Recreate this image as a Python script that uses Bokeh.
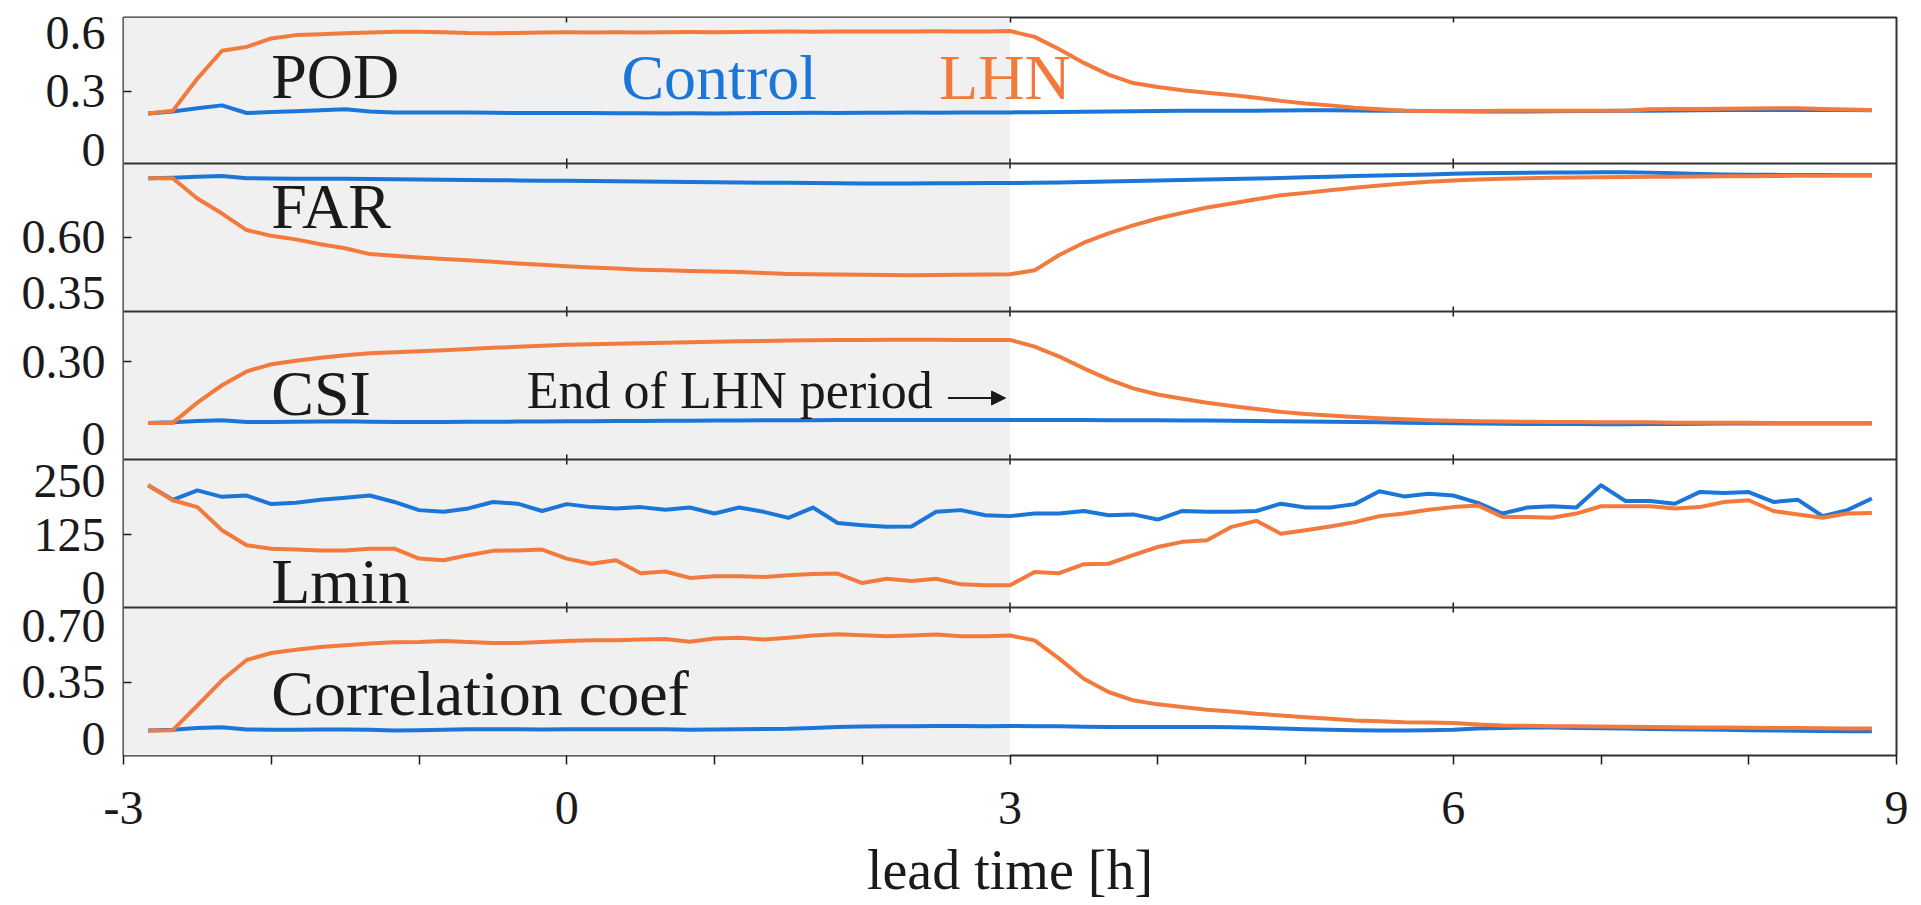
from bokeh.plotting import figure
from bokeh.models import (FixedTicker, LinearAxis, BoxAnnotation, Arrow, NormalHead, Range1d,
                          Label, Span)
from bokeh.embed import file_html
from bokeh.resources import INLINE

# ---------------- data ----------------
lead_minutes = list(range(-170, 531, 10))          # 10-minute output steps
lead_time = [m / 60.0 for m in lead_minutes]        # hours

pod_control = [0.187, 0.197, 0.213, 0.228, 0.189, 0.194, 0.198, 0.203, 0.208, 0.197,
               0.192, 0.191, 0.192, 0.191, 0.190, 0.189, 0.189, 0.189, 0.189, 0.188,
               0.188, 0.187, 0.188, 0.187, 0.188, 0.189, 0.189, 0.190, 0.189, 0.190,
               0.190, 0.191, 0.190, 0.191, 0.191, 0.192, 0.193, 0.194, 0.196, 0.197,
               0.198, 0.199, 0.200, 0.200, 0.201, 0.201, 0.202, 0.203, 0.203, 0.202,
               0.201, 0.200, 0.199, 0.198, 0.197, 0.197, 0.197, 0.198, 0.199, 0.199,
               0.200, 0.201, 0.202, 0.203, 0.204, 0.204, 0.205, 0.205, 0.204, 0.204,
               0.203]
pod_lhn = [0.187, 0.200, 0.365, 0.507, 0.527, 0.570, 0.587, 0.592, 0.596, 0.600,
           0.604, 0.604, 0.602, 0.598, 0.597, 0.598, 0.600, 0.601, 0.600, 0.601,
           0.600, 0.602, 0.603, 0.602, 0.603, 0.604, 0.605, 0.604, 0.605, 0.606,
           0.605, 0.606, 0.607, 0.606, 0.606, 0.608, 0.578, 0.515, 0.445, 0.385,
           0.342, 0.322, 0.305, 0.293, 0.281, 0.267, 0.251, 0.238, 0.228, 0.216,
           0.208, 0.201, 0.199, 0.199, 0.199, 0.200, 0.200, 0.201, 0.200, 0.201,
           0.200, 0.208, 0.209, 0.210, 0.211, 0.212, 0.213, 0.213, 0.210, 0.207,
           0.205]

far_control = [0.866, 0.868, 0.872, 0.876, 0.866, 0.865, 0.864, 0.864, 0.863, 0.862,
               0.861, 0.860, 0.859, 0.858, 0.857, 0.856, 0.855, 0.854, 0.853, 0.852,
               0.851, 0.850, 0.849, 0.848, 0.847, 0.846, 0.845, 0.844, 0.843, 0.842,
               0.842, 0.842, 0.843, 0.843, 0.844, 0.844, 0.845, 0.847, 0.849, 0.851,
               0.853, 0.856, 0.858, 0.860, 0.862, 0.865, 0.867, 0.870, 0.873, 0.876,
               0.878, 0.880, 0.883, 0.886, 0.888, 0.889, 0.890, 0.891, 0.892, 0.893,
               0.893, 0.891, 0.888, 0.885, 0.883, 0.882, 0.881, 0.880, 0.880, 0.879,
               0.879]
far_lhn = [0.866, 0.866, 0.775, 0.707, 0.633, 0.607, 0.591, 0.569, 0.551, 0.525,
           0.517, 0.510, 0.503, 0.497, 0.490, 0.483, 0.477, 0.470, 0.465, 0.460,
           0.455, 0.452, 0.449, 0.447, 0.445, 0.440, 0.436, 0.434, 0.433, 0.432,
           0.431, 0.430, 0.431, 0.432, 0.433, 0.434, 0.452, 0.521, 0.576, 0.618,
           0.654, 0.685, 0.710, 0.734, 0.752, 0.771, 0.789, 0.800, 0.812, 0.823,
           0.833, 0.842, 0.850, 0.856, 0.860, 0.863, 0.866, 0.868, 0.869, 0.870,
           0.871, 0.872, 0.873, 0.874, 0.875, 0.875, 0.876, 0.877, 0.877, 0.878,
           0.878]

csi_control = [0.061, 0.063, 0.068, 0.071, 0.064, 0.064, 0.065, 0.066, 0.067, 0.065,
               0.064, 0.064, 0.064, 0.065, 0.065, 0.066, 0.066, 0.067, 0.067, 0.068,
               0.068, 0.069, 0.069, 0.070, 0.070, 0.071, 0.071, 0.071, 0.072, 0.072,
               0.072, 0.072, 0.072, 0.072, 0.072, 0.072, 0.072, 0.072, 0.072, 0.071,
               0.071, 0.071, 0.070, 0.070, 0.069, 0.068, 0.067, 0.066, 0.065, 0.064,
               0.063, 0.062, 0.061, 0.060, 0.059, 0.058, 0.057, 0.057, 0.057, 0.056,
               0.056, 0.057, 0.057, 0.058, 0.059, 0.059, 0.059, 0.059, 0.059, 0.059,
               0.059]
csi_lhn = [0.061, 0.061, 0.140, 0.208, 0.262, 0.290, 0.304, 0.315, 0.325, 0.333,
           0.337, 0.341, 0.345, 0.350, 0.354, 0.358, 0.362, 0.366, 0.368, 0.370,
           0.372, 0.374, 0.376, 0.378, 0.380, 0.381, 0.383, 0.384, 0.385, 0.385,
           0.386, 0.386, 0.386, 0.385, 0.385, 0.385, 0.359, 0.320, 0.274, 0.231,
           0.196, 0.172, 0.155, 0.140, 0.127, 0.115, 0.104, 0.096, 0.090, 0.084,
           0.079, 0.075, 0.071, 0.069, 0.067, 0.066, 0.065, 0.064, 0.064, 0.063,
           0.063, 0.063, 0.062, 0.062, 0.062, 0.062, 0.061, 0.061, 0.061, 0.061,
           0.061]

lmin_control = [240, 206, 228, 213, 216, 196, 199, 206, 211, 216,
                201, 182, 178, 186, 201, 197, 180, 196, 189, 186,
                189, 183, 188, 174, 188, 178, 164, 188, 152, 147,
                143, 144, 178, 182, 170, 168, 174, 174, 180, 170,
                172, 160, 180, 178, 178, 180, 197, 188, 188, 196,
                226, 214, 220, 216, 199, 174, 188, 191, 188, 240,
                203, 203, 197, 224, 222, 224, 201, 206, 168, 182,
                209]
lmin_lhn = [240, 205, 189, 135, 100, 92, 90, 88, 88, 92,
            92, 69, 65, 77, 87, 88, 90, 69, 57, 65,
            35, 39, 24, 28, 28, 26, 30, 33, 34, 12,
            22, 17, 22, 9, 7, 7, 38, 35, 56, 57,
            77, 96, 108, 112, 143, 157, 127, 135, 144, 154,
            168, 174, 183, 189, 193, 166, 166, 164, 174, 191,
            191, 191, 186, 189, 201, 205, 180, 172, 164, 174,
            175]

corr_control = [0.050, 0.054, 0.066, 0.070, 0.056, 0.055, 0.055, 0.056, 0.056, 0.054,
                0.050, 0.052, 0.055, 0.057, 0.058, 0.057, 0.056, 0.057, 0.058, 0.058,
                0.058, 0.057, 0.055, 0.056, 0.058, 0.060, 0.061, 0.066, 0.072, 0.075,
                0.076, 0.077, 0.078, 0.078, 0.077, 0.078, 0.077, 0.076, 0.074, 0.072,
                0.071, 0.071, 0.072, 0.071, 0.070, 0.067, 0.062, 0.058, 0.055, 0.052,
                0.050, 0.050, 0.052, 0.055, 0.062, 0.066, 0.068, 0.068, 0.066, 0.064,
                0.062, 0.060, 0.058, 0.056, 0.054, 0.052, 0.050, 0.048, 0.047, 0.046,
                0.045]
corr_lhn = [0.050, 0.052, 0.206, 0.363, 0.490, 0.533, 0.554, 0.571, 0.581, 0.592,
            0.600, 0.602, 0.608, 0.602, 0.596, 0.596, 0.602, 0.608, 0.612, 0.612,
            0.617, 0.620, 0.604, 0.623, 0.629, 0.617, 0.629, 0.642, 0.650, 0.644,
            0.638, 0.642, 0.648, 0.638, 0.638, 0.642, 0.612, 0.498, 0.373, 0.290,
            0.238, 0.213, 0.196, 0.180, 0.169, 0.154, 0.144, 0.133, 0.123, 0.113,
            0.108, 0.102, 0.100, 0.096, 0.088, 0.081, 0.079, 0.077, 0.077, 0.075,
            0.073, 0.072, 0.070, 0.069, 0.068, 0.067, 0.066, 0.065, 0.064, 0.063,
            0.062]

panel_names = ["POD", "FAR", "CSI", "Lmin", "Correlation coef"]
panel_control = [pod_control, far_control, csi_control, lmin_control, corr_control]
panel_lhn = [pod_lhn, far_lhn, csi_lhn, lmin_lhn, corr_lhn]
y_ticks = [[0, 0.3, 0.6], [0.35, 0.60], [0, 0.30], [0, 125, 250], [0, 0.35, 0.70]]
y_tick_text = [["0", "0.3", "0.6"], ["0.35", "0.60"], ["0", "0.30"], ["0", "125", "250"],
               ["0", "0.35", "0.70"]]
y_marked_tick = [0.3, 0.60, 0.30, 125, 0.35]
x_ticks = [-3, -2, -1, 0, 1, 2, 3, 4, 5, 6, 7, 8, 9]
x_labelled = [-3, 0, 3, 6, 9]
x_border_ticks = [0, 3, 6]
series_names = ["Control", "LHN"]
x_title = "lead time [h]"

# ---------------- layout / style ----------------
BLUE = "#1b76d8"
ORANGE = "#f27a3d"
SERIF = "Liberation Serif"
INK = "#1a1a1a"
EDGE = "#333333"

y_ranges = [(-0.069, 0.677), (0.267, 0.932), (-0.082, 0.496), (-45.0, 300.0), (-0.106, 0.817)]
band_heights = [146, 148, 148, 148, 148]           # pixel height of each panel
label_y = [0.377, 0.737, 0.176, 16.0, 0.279]       # vertical centre of the panel names
total_h = sum(band_heights)

# the stacked panels share one frame; each panel gets its own y-range that maps
# its values onto its own horizontal band of that frame
band_bottoms = []
acc = total_h
for h in band_heights:
    acc -= h
    band_bottoms.append(acc)

extra = {}
scales = []
for i, (lo, hi) in enumerate(y_ranges):
    b0 = band_bottoms[i]
    s = (hi - lo) / band_heights[i]
    start = lo - b0 * s
    extra["p%d" % i] = Range1d(start, start + total_h * s)
    scales.append((lo, b0, s))


def band_pos(i, v):
    lo, b0, s = scales[i]
    return b0 + (v - lo) / s


p = figure(x_range=Range1d(-3, 9), y_range=Range1d(0, total_h),
           frame_width=1773, frame_height=total_h,
           x_axis_location=None, y_axis_location=None,
           toolbar_location=None, output_backend="svg",
           min_border_left=123, min_border_right=15, min_border_top=17, min_border_bottom=0)
p.extra_y_ranges = extra
p.outline_line_color = EDGE
p.outline_line_width = 2
p.background_fill_color = "white"
p.border_fill_color = "white"
p.xgrid.visible = False
p.ygrid.visible = False

# LHN period shading
p.add_layout(BoxAnnotation(left=-3, right=3, fill_color="#f0f0f0", fill_alpha=1.0,
                           line_color=None, level="underlay"))

# panel separators
for b in band_bottoms[:-1]:
    p.add_layout(Span(location=b, dimension="width", line_color=EDGE, line_width=2))

# small ticks crossing the separators
seg_x, seg_y0, seg_y1 = [], [], []
for b in band_bottoms[:-1]:
    for xt in x_border_ticks:
        seg_x.append(xt)
        seg_y0.append(b - 5)
        seg_y1.append(b + 5)
p.segment(x0=seg_x, y0=seg_y0, x1=seg_x, y1=seg_y1, line_color=INK, line_width=1.5)

# y axes: innermost carries the single tick mark per panel, outer one carries labels
mark_pos = [band_pos(i, v) for i, v in enumerate(y_marked_tick)]
ytick_axis = LinearAxis(ticker=FixedTicker(ticks=mark_pos, minor_ticks=[]),
                        major_tick_in=8, major_tick_out=0, axis_line_color=None,
                        major_tick_line_color=INK, major_tick_line_width=1.5,
                        major_label_text_font_size="0px", major_label_standoff=0,
                        major_label_overrides={t: "" for t in mark_pos})
p.add_layout(ytick_axis, "left")

lab_pos, lab_txt = [], {}
for i in range(len(panel_names)):
    for v, t in zip(y_ticks[i], y_tick_text[i]):
        pos = band_pos(i, v)
        lab_pos.append(pos)
        lab_txt[pos] = t
ylab_axis = LinearAxis(ticker=FixedTicker(ticks=lab_pos, minor_ticks=[]),
                       major_tick_in=0, major_tick_out=0, major_tick_line_color=None,
                       axis_line_color=None,
                       major_label_text_font=SERIF, major_label_text_font_size="48px",
                       major_label_text_color=INK, major_label_standoff=18,
                       major_label_overrides=lab_txt)
p.add_layout(ylab_axis, "left")

# top border ticks
top_axis = LinearAxis(ticker=FixedTicker(ticks=x_border_ticks, minor_ticks=[]),
                      major_tick_in=5, major_tick_out=0, axis_line_color=None,
                      major_tick_line_color=INK, major_tick_line_width=1.5,
                      major_label_text_font_size="0px", major_label_standoff=0,
                      major_label_overrides={t: "" for t in x_border_ticks})
p.add_layout(top_axis, "above")

# bottom x axis
xb = LinearAxis(ticker=FixedTicker(ticks=x_ticks, minor_ticks=[]),
                major_tick_in=0, major_tick_out=9,
                major_tick_line_color=INK, major_tick_line_width=1.5,
                axis_line_color=None,
                major_label_text_font=SERIF, major_label_text_font_size="48px",
                major_label_text_color=INK, major_label_standoff=27,
                major_label_overrides={t: (str(t) if t in x_labelled else "") for t in x_ticks},
                axis_label=x_title, axis_label_text_font=SERIF,
                axis_label_text_font_size="56px", axis_label_text_font_style="normal",
                axis_label_text_color=INK, axis_label_standoff=12)
p.add_layout(xb, "below")

# data lines
for i in range(len(panel_names)):
    rn = "p%d" % i
    p.line(lead_time, panel_control[i], line_color=BLUE, line_width=4, line_join="round",
           y_range_name=rn)
    p.line(lead_time, panel_lhn[i], line_color=ORANGE, line_width=4, line_join="round",
           y_range_name=rn)
    p.add_layout(Label(x=-2.0, y=label_y[i], y_range_name=rn, text=panel_names[i],
                       text_font=SERIF, text_font_size="64px", text_color=INK,
                       text_baseline="middle"))

# legend-like texts in the first panel
p.add_layout(Label(x=0.37, y=0.369, y_range_name="p0", text=series_names[0], text_font=SERIF,
                   text_font_size="64px", text_color=BLUE, text_baseline="middle"))
p.add_layout(Label(x=2.52, y=0.369, y_range_name="p0", text=series_names[1], text_font=SERIF,
                   text_font_size="64px", text_color=ORANGE, text_baseline="middle"))

# end of LHN period annotation in CSI panel
p.add_layout(Label(x=-0.27, y=0.189, y_range_name="p2", text="End of LHN period",
                   text_font=SERIF, text_font_size="52px", text_color=INK,
                   text_baseline="middle"))
p.add_layout(Arrow(end=NormalHead(size=14, fill_color=INK, line_color=INK),
                   x_start=2.58, y_start=0.158, x_end=2.97, y_end=0.158,
                   y_range_name="p2", line_color=INK, line_width=2))

open("out.html", "w").write(file_html(p, INLINE))
